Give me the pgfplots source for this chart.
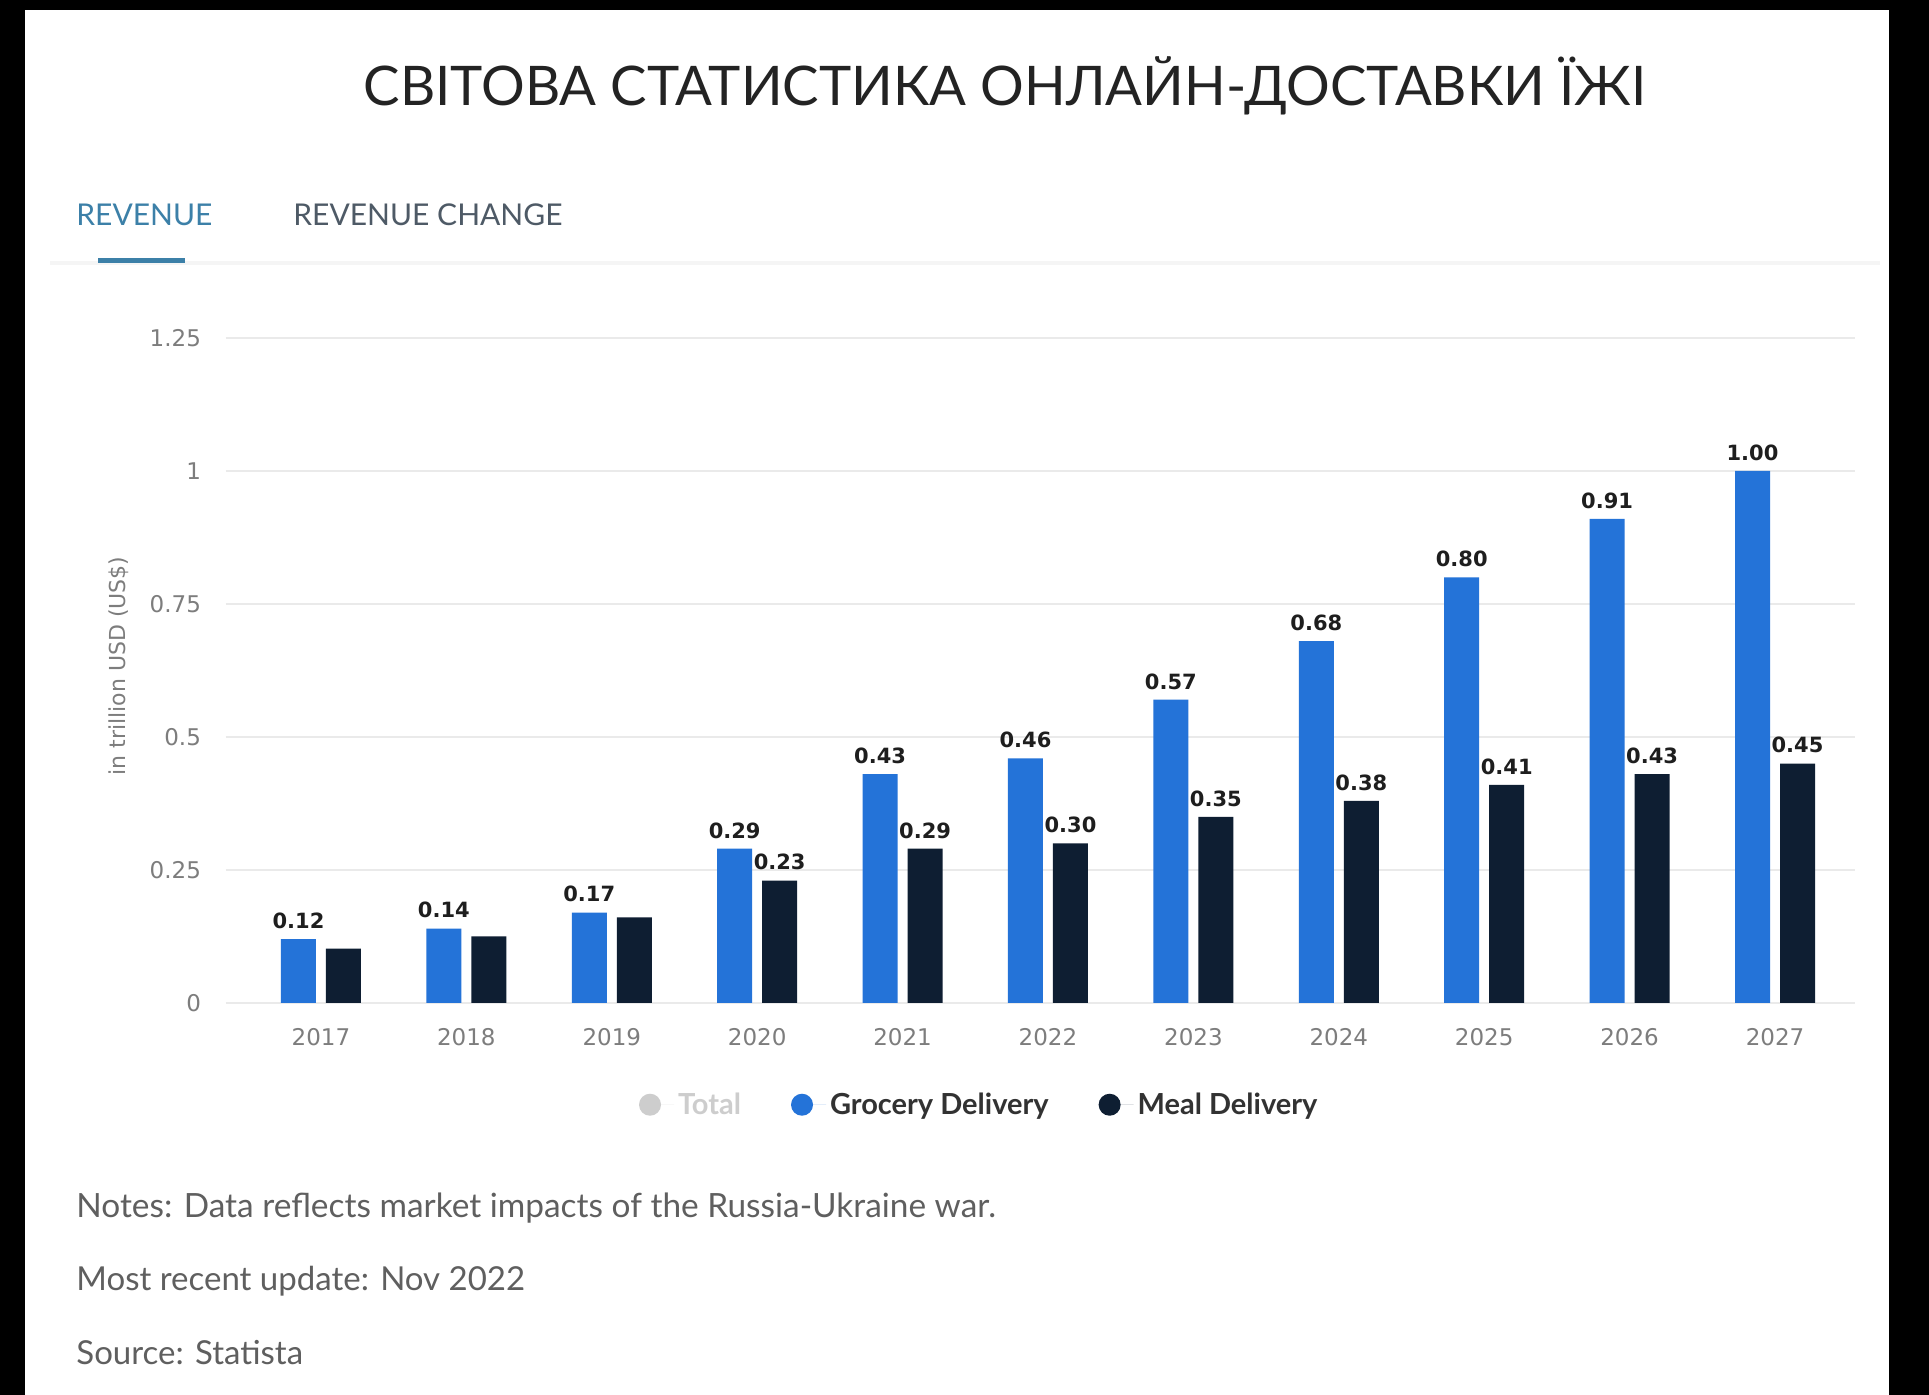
\documentclass[border=0pt]{standalone}
\usepackage{fontspec}
\setmainfont{Lato}
\newfontfamily\dejavu{DejaVu Sans}
\usepackage{pgfplots}
\pgfplotsset{compat=1.18}
\definecolor{groc}{RGB}{36,115,216}
\definecolor{meal}{RGB}{14,30,50}
\definecolor{tabblue}{RGB}{60,128,168}
\definecolor{tabgrey}{RGB}{78,90,102}
\definecolor{notegrey}{RGB}{95,95,95}
\definecolor{tickgrey}{RGB}{125,125,125}
\definecolor{gridc}{RGB}{234,234,234}
\definecolor{totalc}{RGB}{205,205,205}
\definecolor{titlec}{RGB}{35,35,35}
\definecolor{valc}{RGB}{30,30,30}
\definecolor{legc}{RGB}{50,50,50}
\begin{document}
\begin{tikzpicture}
\begin{scope}[x=0.5pt,y=0.5pt]
\useasboundingbox (0,0) rectangle (1929,1395);
\fill[black] (0,0) rectangle (1929,1395);
\fill[white] (25,0) rectangle (1889,1385);
% title
\node[text=titlec, font=\fontsize{27.3}{33}\selectfont] at (1005,1309) {СВІТОВА СТАТИСТИКА ОНЛАЙН-ДОСТАВКИ ЇЖІ};
% tabs
\node[anchor=west, inner sep=0, text=tabblue, font=\fontsize{15}{18}\selectfont] at (76,1180) {REVENUE};
\node[anchor=west, inner sep=0, text=tabgrey, font=\fontsize{15}{18}\selectfont] at (293,1180) {REVENUE CHANGE};
\fill[gray!8] (50,1130) rectangle (1880,1134);
\fill[tabblue] (98,1132) rectangle (185,1137);
% y label
\node[rotate=90, text=tickgrey, font=\dejavu\fontsize{11}{13}\selectfont] at (119,729) {in trillion USD (US\$)};
% notes
\node[anchor=west, inner sep=0, text=notegrey, font=\fontsize{16.7}{19}\selectfont] at (76,187) {Notes: Data reflects market impacts of the Russia-Ukraine war.};
\node[anchor=west, inner sep=0, text=notegrey, font=\fontsize{16.5}{19}\selectfont] at (76,114) {Most recent update: Nov 2022};
\node[anchor=west, inner sep=0, text=notegrey, font=\fontsize{16.5}{19}\selectfont] at (76,42) {Source: Statista};
\end{scope}
\begin{axis}[
  at={(113pt,196pt)}, anchor=south west, scale only axis,
  width=814.5pt, height=332.5pt,
  ybar, bar width=17.5pt,
  xmin=-0.653, xmax=10.55, ymin=0, ymax=1.25,
  ytick={0,0.25,0.5,0.75,1,1.25},
  yticklabels={0,0.25,0.5,0.75,1,1.25},
  xtick={0,1,2,3,4,5,6,7,8,9,10},
  xticklabels={2017,2018,2019,2020,2021,2022,2023,2024,2025,2026,2027},
  axis line style={draw=none},
  major tick length=0pt,
  ymajorgrids, grid style={gridc, line width=1.3pt},
  tick label style={font=\dejavu\fontsize{11.5}{13}\selectfont, text=tickgrey},
  yticklabel style={xshift=-9pt},
  xticklabel style={yshift=-9pt},
  clip=false,
  legend image code/.code={\fill[#1] (0pt,0pt) circle (5.5pt); \path (-5.5pt,0pt) -- (12pt,0pt);},
  legend style={at={(0.463,-0.153)}, anchor=center, draw=none, fill=none,
    legend columns=3, font=\bfseries\fontsize{14.5}{17}\selectfont, text=legc,
    /tikz/every even column/.append style={column sep=23pt}},
  every node near coord/.append style={font=\dejavu\bfseries\fontsize{10.5}{12}\selectfont, text=valc, inner sep=1pt, yshift=4pt},
]
\addplot[forget plot, fill=groc, draw=none, bar shift=-11.25pt,
  nodes near coords, point meta=explicit symbolic] coordinates {
  (0,0.12)[0.12] (1,0.14)[0.14] (2,0.17)[0.17] (3,0.29)[0.29]
  (4,0.43)[0.43] (5,0.46)[0.46] (6,0.57)[0.57] (7,0.68)[0.68]
  (8,0.80)[0.80] (9,0.91)[0.91] (10,1.00)[1.00]};
\addplot[forget plot, fill=meal, draw=none, bar shift=11.25pt] coordinates {
  (0,0.102) (1,0.125) (2,0.161)};
\addplot[forget plot, fill=meal, draw=none, bar shift=11.25pt,
  nodes near coords, point meta=explicit symbolic] coordinates {
  (3,0.23)[0.23] (4,0.29)[0.29] (5,0.30)[0.30] (6,0.35)[0.35]
  (7,0.38)[0.38] (8,0.41)[0.41] (9,0.43)[0.43] (10,0.45)[0.45]};
\addlegendimage{fill=totalc, draw=none}
\addlegendentry{\textcolor{totalc}{Total}}
\addlegendimage{fill=groc, draw=none}
\addlegendentry{Grocery Delivery}
\addlegendimage{fill=meal, draw=none}
\addlegendentry{Meal Delivery}
\end{axis}
\end{tikzpicture}
\end{document}
